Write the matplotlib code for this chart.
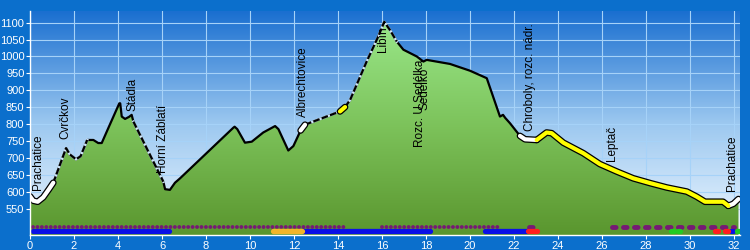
import numpy as np
import matplotlib.pyplot as plt
from matplotlib.colors import LinearSegmentedColormap
from matplotlib.patches import Polygon

plt.rcParams['font.family'] = ['Liberation Sans', 'DejaVu Sans']

# elevation profile (km, m)
km = [0.0, 0.15, 0.35, 0.6, 0.85, 1.06, 1.3, 1.64, 1.8, 2.09, 2.3, 2.6, 2.88, 3.1, 3.26,
      3.6, 4.06, 4.1, 4.17, 4.32, 4.5, 4.62, 4.7, 6.06, 6.14, 6.36, 6.59, 6.82, 9.24, 9.3,
      9.42, 9.77, 10.08, 10.6, 11.14, 11.29, 11.74, 11.97, 12.3, 12.5, 14.09, 14.32, 14.55,
      15.3, 15.83, 16.1, 16.36, 16.67, 16.97, 17.58, 17.88, 18.03, 19.09, 20.0, 20.76,
      21.36, 21.5, 21.6, 21.82, 22.27, 22.5, 23.03, 23.48, 23.71, 24.24, 25.15, 25.9,
      26.67, 27.42, 28.18, 28.94, 29.85, 30.3, 30.68, 31.5, 31.74, 31.97, 32.2]
ele = [588, 575, 572, 585, 608, 628, 670, 730, 712, 697, 706, 754, 754, 745, 745,
       795, 862, 862, 823, 816, 822, 828, 808, 631, 609, 607, 628, 641, 790, 793,
       786, 746, 749, 776, 795, 786, 723, 736, 782, 799, 838, 851, 872,
       985, 1059, 1102, 1078, 1044, 1020, 1000, 985, 990, 978, 958, 936,
       823, 828, 819, 803, 766, 756, 754, 776, 774, 746, 715, 683,
       661, 641, 627, 614, 602, 587, 572, 572, 560, 566, 580]

poi_names = ["Prachatice", "Cvrčkov", "Stádla", "Horní Záblatí", "Albrechtovice", "Libín",
             "Rozc. U Sedélka", "Sedélko", "Chroboly, rozc. nádr.", "Leptač", "Prachatice"]
poi_km = [0.35, 1.6, 4.65, 6.03, 12.42, 16.06, 17.73, 17.95, 22.73, 26.44, 31.92]
poi_ele = [607, 756, 838, 658, 821, 1012, 733, 843, 781, 693, 605]

white_parts = [(0.0, 1.06), (12.3, 12.5), (22.27, 23.03), (31.74, 32.2)]
yellow_parts = [(14.09, 14.32), (23.03, 31.74)]
dashed_parts = [(1.06, 2.6), (4.7, 6.06), (12.5, 14.09), (14.32, 16.67)]

# strips along the bottom
dot_runs = [(0.12, 14.4), (16.0, 21.3)]
oval_runs = [(22.7, 23.0), (26.45, 32.0)]
blue_runs = [(0.12, 6.33), (12.35, 18.18), (20.68, 22.65), (31.85, 31.97)]
orange_runs = [(11.06, 12.35)]
red_runs = [(22.65, 23.06), (31.15, 31.25), (31.6, 31.72)]
green_runs = [(0.0, 0.02), (29.15, 29.25), (29.45, 29.55), (32.15, 32.25)]

X_MAX, Y_MIN, Y_MAX = 32.27, 474, 1134
DOT_Y, BAR_Y = 499, 485


def part(a, b):
    xs = [x for x in km if a - 1e-9 <= x <= b + 1e-9]
    ys = [e for x, e in zip(km, ele) if a - 1e-9 <= x <= b + 1e-9]
    return xs, ys


fig = plt.figure(figsize=(7.5, 2.5), dpi=100)
fig.patch.set_facecolor("#0b6fcc")
ax = fig.add_axes([30 / 750, 15 / 250, 710 / 750, 224 / 250])

# sky gradient
sky = LinearSegmentedColormap.from_list("sky", ["#eef7ff", "#9cc8f0", "#1a6fd0"])
grad = np.linspace(0, 1, 256).reshape(-1, 1)
ax.imshow(grad, extent=[0, X_MAX, Y_MIN, Y_MAX], origin="lower", aspect="auto",
          cmap=sky, zorder=0)

# ground gradient clipped to profile
poly = Polygon(list(zip(km, ele)) + [(km[-1], Y_MIN), (km[0], Y_MIN)], closed=True,
               facecolor="none", edgecolor="none")
ax.add_patch(poly)
ground = LinearSegmentedColormap.from_list("ground", ["#5a962e", "#7cc25a", "#9ae88a"])
img = ax.imshow(grad, extent=[0, X_MAX, Y_MIN, 1110], origin="lower", aspect="auto",
                cmap=ground, zorder=2)
img.set_clip_path(poly)

# profile line
ax.plot(km, ele, color="black", lw=1.6, zorder=3, solid_joinstyle="round")
for a, b in dashed_parts:
    xs, ys = part(a, b)
    ax.plot(xs, ys, color="#cfe6fa", lw=1.8, zorder=3.1)
    ax.plot(xs, ys, color="black", lw=1.6, ls=(0, (3, 1.0)), zorder=3.2)

for parts, col in [(white_parts, "white"), (yellow_parts, "#ffff00")]:
    for a, b in parts:
        xs, ys = part(a, b)
        ax.plot(xs, ys, color="black", lw=4.8, zorder=4, solid_capstyle="round",
                solid_joinstyle="round")
        ax.plot(xs, ys, color=col, lw=3.0, zorder=4.1, solid_capstyle="round",
                solid_joinstyle="round")

# bottom strips
for a, b in dot_runs:
    ax.plot([a, b], [DOT_Y, DOT_Y], color="#761a74", lw=2.8, ls=(0, (0.01, 1.13)),
            dash_capstyle="round", zorder=5)
for a, b in oval_runs:
    ax.plot([a, b], [DOT_Y, DOT_Y], color="#761a74", lw=3.5, ls=(0, (0.74, 1.52)),
            dash_capstyle="round", zorder=5)
for runs, col in [(blue_runs, "#0a10e6"), (orange_runs, "#f2b52a"),
                  (red_runs, "#ff1e1e"), (green_runs, "#22cc22")]:
    for a, b in runs:
        ax.plot([a, b], [BAR_Y, BAR_Y], color=col, lw=3.8, solid_capstyle="round", zorder=5)

for name, x, y in zip(poi_names, poi_km, poi_ele):
    ax.text(x, y, name, rotation=90, ha="center", va="bottom", fontsize=8.5,
            color="black", zorder=6)

ax.set_xlim(0, X_MAX)
ax.set_ylim(Y_MIN, Y_MAX)
ax.set_xticks(np.arange(0, 33, 2))
ax.set_yticks(np.arange(550, 1101, 50))
ax.grid(True, color="#a6d2f8", lw=0.8)
ax.set_axisbelow(True)
for s in ["top", "right"]:
    ax.spines[s].set_visible(False)
for s in ["left", "bottom"]:
    ax.spines[s].set_color("white")
    ax.spines[s].set_linewidth(1.0)
    ax.spines[s].set_zorder(7)
ax.tick_params(colors="white", labelcolor="white", length=3, width=0.8,
               labelsize=8, pad=1)

fig.savefig("out.png", dpi=100, facecolor=fig.get_facecolor())
